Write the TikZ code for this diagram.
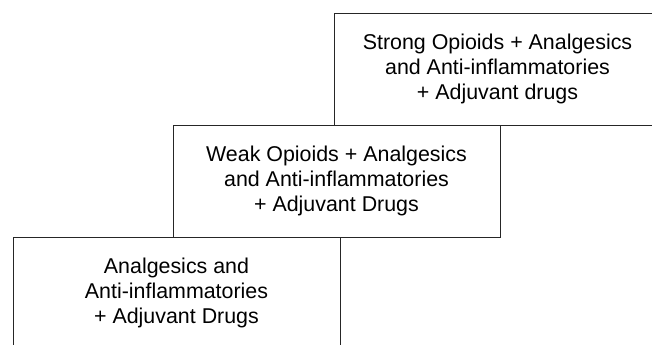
\documentclass[tikz,border=0pt]{standalone}
\usepackage{fontspec}
\setmainfont{Liberation Sans}
\begin{document}
\begin{tikzpicture}[x=0.5pt, y=-0.5pt,
    stepbox/.style={draw=black!85, line width=0.5pt, minimum width=163.5pt,
      minimum height=56pt, inner sep=0pt, align=center,
      font=\fontsize{10.7}{12.4}\selectfont}]
  \useasboundingbox (0,0) rectangle (652,344);
  % Ladder steps, bottom to top
  \node[stepbox] (analgesics) at (176.5,293) {Analgesics and\\Anti-inflammatories\\+ Adjuvant Drugs};
  \node[stepbox] (weak) at (336.5,181) {Weak Opioids + Analgesics\\and Anti-inflammatories\\+ Adjuvant Drugs};
  \node[stepbox] (strong) at (497.5,69) {Strong Opioids + Analgesics\\and Anti-inflammatories\\+ Adjuvant drugs};
\end{tikzpicture}
\end{document}
